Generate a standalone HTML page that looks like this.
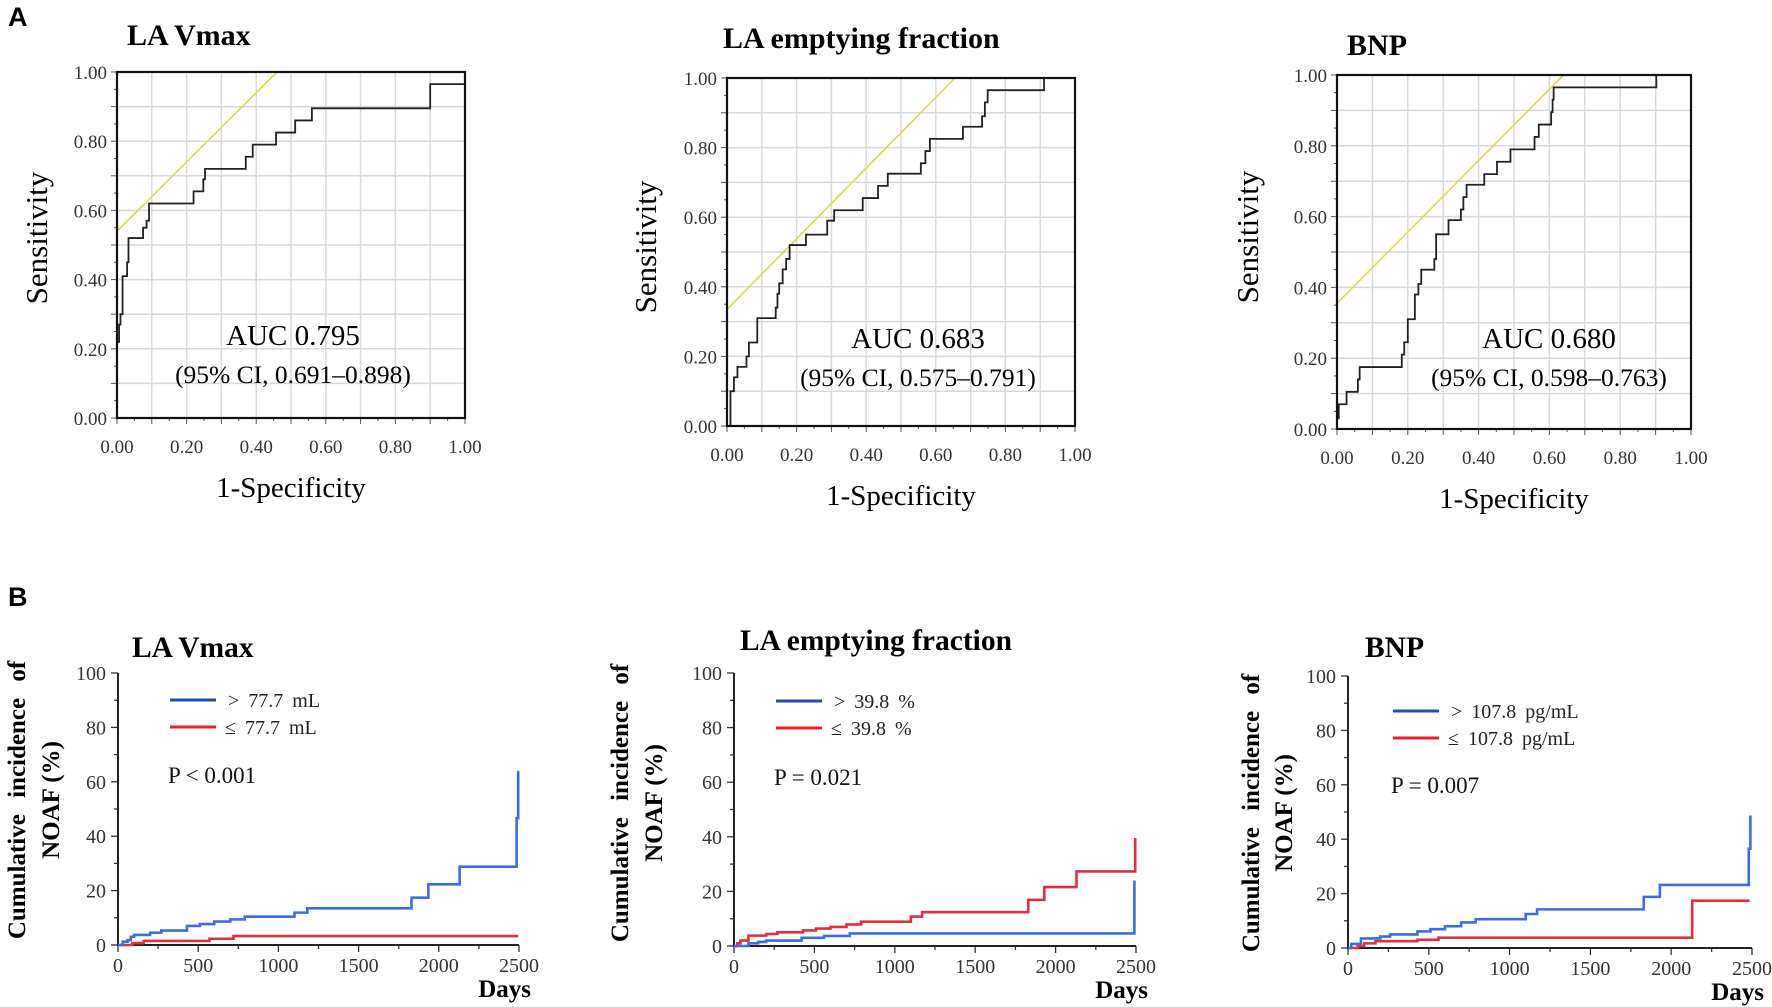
<!DOCTYPE html>
<html><head><meta charset="utf-8">
<style>
html,body{margin:0;padding:0;background:#fff;}
svg{display:block;font-family:"Liberation Serif",serif;}
.tick{font-size:19px;fill:#333;}
.ktick{font-size:20px;fill:#333;}
</style></head>
<body>
<svg id="fig" width="1772" height="1007" viewBox="0 0 1772 1007" xmlns="http://www.w3.org/2000/svg">
<text x="8" y="26" font-family="Liberation Sans, sans-serif" font-weight="bold" font-size="27">A</text>
<text x="8" y="606" font-family="Liberation Sans, sans-serif" font-weight="bold" font-size="27">B</text>
</svg>
<script>
// ROC curve data (step vertices: horizontal to fpr[i], then vertical to tpr[i])
const roc1Fpr=[0,0,0.006,0.010,0.016,0.029,0.033,0.075,0.085,0.092,0.220,0.248,0.253,0.370,0.390,0.457,0.512,0.560,0.900,1.0];
const roc1Tpr=[0,0.22,0.27,0.30,0.41,0.45,0.52,0.55,0.57,0.62,0.655,0.69,0.72,0.755,0.79,0.825,0.86,0.895,0.965,1.0];
const roc2Fpr=[0.01,0.01,0.02,0.03,0.056,0.063,0.087,0.14,0.145,0.15,0.16,0.17,0.18,0.227,0.288,0.308,0.39,0.434,0.462,0.557,0.570,0.583,0.678,0.733,0.741,0.749,0.911];
const roc2Tpr=[0,0.10,0.14,0.17,0.20,0.24,0.31,0.34,0.38,0.41,0.45,0.48,0.52,0.55,0.59,0.62,0.655,0.69,0.725,0.755,0.79,0.825,0.86,0.89,0.93,0.965,1.0];
const roc3Fpr=[0,0.005,0.027,0.059,0.064,0.183,0.19,0.2,0.22,0.23,0.238,0.275,0.28,0.315,0.35,0.357,0.366,0.416,0.452,0.49,0.558,0.57,0.605,0.609,0.612,0.902];
const roc3Tpr=[0.03,0.07,0.105,0.14,0.175,0.21,0.245,0.31,0.38,0.41,0.45,0.48,0.55,0.59,0.62,0.655,0.69,0.72,0.755,0.79,0.825,0.86,0.895,0.93,0.965,1.0];
// yellow tangent line: [intercept at fpr=0, fpr where it reaches 1]
const roc1Ref=[0.54,0.46];
const roc2Ref=[0.335,0.655];
const roc3Ref=[0.355,0.64];
const rocTicks=["0.00","0.20","0.40","0.60","0.80","1.00"];
// Kaplan-Meier data (days, cumulative %)
const km1BlueDays=[0,30,60,80,100,200,270,430,510,600,700,790,1100,1180,1830,1935,2130,2485,2495];
const km1BlueCum=[0,1.2,1.8,3,3.7,4.5,5.3,7,7.7,8.6,9.4,10.4,11.9,13.5,17.4,22.3,28.8,46.6,64];
const km1RedDays=[0,90,160,570,720,2495];
const km1RedCum=[0,0.7,1.5,2.3,3.3,3.3];
const km2BlueDays=[0,90,150,200,420,560,720,2490];
const km2BlueCum=[0,1,1.5,2,3,3.7,4.6,24];
const km2RedDays=[0,20,40,90,200,270,430,510,600,700,790,1100,1170,1830,1930,2130,2495];
const km2RedCum=[0,1,2,3.8,4.4,5,5.7,6.4,7,7.9,8.9,10.8,12.4,16.9,21.6,27.3,39.5];
const km3BlueDays=[0,20,80,200,260,430,510,600,700,790,1100,1170,1830,1930,2480,2490];
const km3BlueCum=[0,1.5,3.5,4.2,5,6.1,6.9,8,9.4,10.6,12.5,14.2,18.8,23.2,36.5,48.7];
const km3RedDays=[0,60,100,170,430,560,2130,2485];
const km3RedCum=[0,0.7,1.7,2.5,3,3.8,17.4,17.4];
const kmYTicks=[0,20,40,60,80,100];
const kmXTicks=[0,500,1000,1500,2000,2500];

const NS="http://www.w3.org/2000/svg";
const svg=document.getElementById('fig');
function mk(tag,attrs,parent,txt){const e=document.createElementNS(NS,tag);for(const k in attrs)e.setAttribute(k,attrs[k]);if(txt!==undefined)e.textContent=txt;(parent||svg).appendChild(e);return e;}

function roc(o){
  const g=mk('g',{});
  
  
  const sx=v=>o.x0+(o.x1-o.x0)*v, sy=v=>o.y0-(o.y0-o.y1)*v;
  for(let i=1;i<10;i++){
    const gl=mk('line',{x1:sx(i/10),x2:sx(i/10),y1:sy(0),y2:sy(1),stroke:'#d8d8d8','stroke-width':1.5},g);
    
    const gh=mk('line',{x1:sx(0),x2:sx(1),y1:sy(i/10),y2:sy(i/10),stroke:'#d8d8d8','stroke-width':1.5},g);
    
  }
  for(let i=0;i<=20;i++){
    mk('line',{x1:sx(i/20),x2:sx(i/20),y1:sy(0),y2:sy(0)+(i%2?3:6),stroke:'#555','stroke-width':1},g);
    mk('line',{x1:sx(0),x2:sx(0)-(i%2?3:6),y1:sy(i/20),y2:sy(i/20),stroke:'#555','stroke-width':1},g);
  }
  rocTicks.forEach((t,i)=>{
    const v=i/5;
    const a=mk('text',{x:sx(v),y:sy(0)+35,'text-anchor':'middle',class:'tick'},g,t);
    
    const b=mk('text',{x:sx(0)-10,y:sy(v)+7,'text-anchor':'end',class:'tick'},g,t);
    
  });
  const r=o.ref;
  const ref=mk('line',{x1:sx(0),y1:sy(r[0]),x2:sx(r[1]),y2:sy(1),stroke:'#e3d64a','stroke-width':1.6},g);
  
  let d='M'+sx(o.fpr[0])+' '+sy(0)+' L'+sx(o.fpr[0])+' '+sy(o.tpr[0]);
  for(let i=1;i<o.fpr.length;i++){d+=' L'+sx(o.fpr[i])+' '+sy(o.tpr[i-1])+' L'+sx(o.fpr[i])+' '+sy(o.tpr[i]);}
  const p=mk('path',{d:d,fill:'none',stroke:'#222','stroke-width':1.8},g);
  
  const box=mk('rect',{x:sx(0),y:sy(1),width:sx(1)-sx(0),height:sy(0)-sy(1),fill:'none',stroke:'#111','stroke-width':2.2},g);
  
  const t=mk('text',{x:o.tx,y:o.ty,'font-weight':'bold','font-size':30},g,o.title);
  
  const yl=mk('text',{x:0,y:0,'font-size':31,'text-anchor':'middle',transform:`translate(${o.ylx},${o.yly}) rotate(-90)`},g,'Sensitivity');
  
  const xl=mk('text',{x:(sx(0)+sx(1))/2,y:sy(0)+79,'font-size':29,'text-anchor':'middle'},g,'1-Specificity');
  
  const au=mk('text',{x:o.ax,y:o.ay,'font-size':29,'text-anchor':'middle'},g,o.auc);
  
  const ci=mk('text',{x:o.ax,y:o.ay+38,'font-size':25.5,'text-anchor':'middle'},g,o.ci);
  
}
roc({name:'la-vmax',x0:117,x1:465,y0:418,y1:72,fpr:roc1Fpr,tpr:roc1Tpr,ref:roc1Ref,title:'LA Vmax',tx:127,ty:45,ylx:47,yly:238,ax:293,ay:345,auc:'AUC 0.795',ci:'(95% CI, 0.691\u20130.898)'});
roc({name:'la-emptying',x0:727,x1:1075,y0:426,y1:78,fpr:roc2Fpr,tpr:roc2Tpr,ref:roc2Ref,title:'LA emptying fraction',tx:723,ty:48,ylx:656,yly:247,ax:918,ay:348,auc:'AUC 0.683',ci:'(95% CI, 0.575\u20130.791)'});
roc({name:'bnp',x0:1337,x1:1691,y0:429,y1:75,fpr:roc3Fpr,tpr:roc3Tpr,ref:roc3Ref,title:'BNP',tx:1347,ty:55,ylx:1258,yly:237,ax:1549,ay:348,auc:'AUC 0.680',ci:'(95% CI, 0.598\u20130.763)'});

function km(o){
  const g=mk('g',{});
  
  
  const sx=v=>o.x0+(o.x1-o.x0)*v/2500, sy=v=>o.y0-(o.y0-o.y1)*v/100;
  for(let v=0;v<=100;v+=10){mk('line',{x1:sx(0),x2:sx(0)-(v%20?4:7),y1:sy(v),y2:sy(v),stroke:'#333','stroke-width':1.3},g);}
  for(let v=0;v<=2500;v+=250){mk('line',{x1:sx(v),x2:sx(v),y1:sy(0),y2:sy(0)+(v%500?4:7),stroke:'#333','stroke-width':1.3},g);}
  kmYTicks.forEach(v=>{const t=mk('text',{x:sx(0)-12,y:sy(v)+7,'text-anchor':'end',class:'ktick'},g,String(v));});
  kmXTicks.forEach(v=>{const t=mk('text',{x:sx(v),y:sy(0)+27,'text-anchor':'middle',class:'ktick'},g,String(v));});
  const ax=mk('path',{d:`M${sx(0)} ${sy(100)} L${sx(0)} ${sy(0)} L${sx(2500)} ${sy(0)}`,fill:'none',stroke:'#222','stroke-width':2},g);
  
  function step(days,cum,color,nm){
    let d='M'+sx(days[0])+' '+sy(cum[0]);
    for(let i=1;i<days.length;i++){d+=' L'+sx(days[i])+' '+sy(cum[i-1])+' L'+sx(days[i])+' '+sy(cum[i]);}
    const p=mk('path',{d:d,fill:'none',stroke:color,'stroke-width':2.6},g);
    
  }
  step(o.rd,o.rc,'#e0303c','km-curve-low');
  step(o.bd,o.bc,'#3a6fe0','km-curve-high');
  const t=mk('text',{x:o.tx,y:o.ty,'font-weight':'bold','font-size':29.5},g,o.title);
  
  const y1=mk('text',{x:0,y:0,'font-weight':'bold','font-size':25,'text-anchor':'middle','word-spacing':10,transform:`translate(${o.l1x},${o.ly}) rotate(-90)`},g,'Cumulative incidence of');
  
  const y2=mk('text',{x:0,y:0,'font-weight':'bold','font-size':25,'text-anchor':'middle',transform:`translate(${o.l2x},${o.ly}) rotate(-90)`},g,'NOAF (%)');
  
  const dy=mk('text',{x:sx(2500)+12,y:sy(0)+52,'font-weight':'bold','font-size':25,'text-anchor':'end'},g,'Days');
  
  const lb=mk('line',{x1:o.lx,x2:o.lx+46,y1:o.lyb,y2:o.lyb,stroke:'#1f4fa8','stroke-width':3},g);
  
  const lr=mk('line',{x1:o.lx,x2:o.lx+46,y1:o.lyb+27,y2:o.lyb+27,stroke:'#ee1c25','stroke-width':3},g);
  
  const e1=mk('text',{x:o.lx+58,y:o.lyb+7,'font-size':20,fill:'#222','word-spacing':4},g,o.hi);
  
  const e2=mk('text',{x:o.lx+55,y:o.lyb+34,'font-size':20,fill:'#222','word-spacing':4},g,o.lo);
  
  const pv=mk('text',{x:o.lx-2,y:o.py,'font-size':23,fill:'#111'},g,o.p);
  
}
km({name:'la-vmax',x0:118,x1:519,y0:945,y1:673,bd:km1BlueDays,bc:km1BlueCum,rd:km1RedDays,rc:km1RedCum,title:'LA Vmax',tx:132,ty:657,l1x:25,l2x:59,ly:800,lx:170,lyb:700,hi:'> 77.7 mL',lo:'\u2264 77.7 mL',py:783,p:'P < 0.001'});
km({name:'la-emptying',x0:734,x1:1136,y0:946,y1:673,bd:km2BlueDays,bc:km2BlueCum,rd:km2RedDays,rc:km2RedCum,title:'LA emptying fraction',tx:740,ty:650,l1x:628,l2x:662,ly:803,lx:776,lyb:701,hi:'> 39.8 %',lo:'\u2264 39.8 %',py:785,p:'P = 0.021'});
km({name:'bnp',x0:1348,x1:1752,y0:948,y1:676,bd:km3BlueDays,bc:km3BlueCum,rd:km3RedDays,rc:km3RedCum,title:'BNP',tx:1365,ty:657,l1x:1259,l2x:1292,ly:813,lx:1393,lyb:711,hi:'> 107.8 pg/mL',lo:'\u2264 107.8 pg/mL',py:793,p:'P = 0.007'});
</script>
</body></html>
